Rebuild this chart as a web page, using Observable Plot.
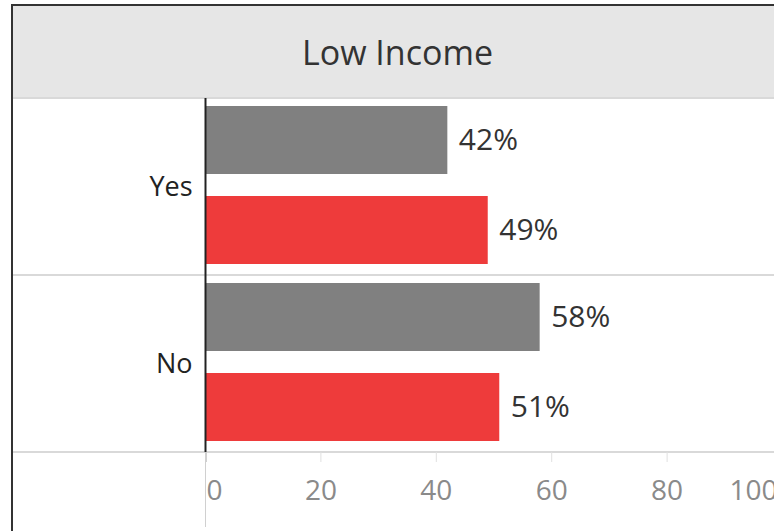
<!DOCTYPE html>
<html>
<head>
<meta charset="utf-8">
<script src="https://cdn.jsdelivr.net/npm/d3@7"></script>
<script src="https://cdn.jsdelivr.net/npm/@observablehq/plot@0.6"></script>
<style>
  html, body { margin: 0; padding: 0; background: #fff; }
  body { width: 774px; height: 531px; overflow: hidden; position: relative; font-family: "Open Sans", sans-serif; }
  #topborder { position: absolute; left: 11px; top: 4px; width: 800px; height: 2px; background: #333; }
  #leftborder { position: absolute; left: 11px; top: 4px; width: 2px; height: 540px; background: #333; }
  #header { position: absolute; left: 13px; top: 6px; width: 769px; height: 91px; background: #e6e6e6;
            display: flex; align-items: center; justify-content: center; color: #333; font-size: 34px; }
  #chart { position: absolute; left: 0; top: 97px; width: 790px; height: 434px; }
  #chart svg { max-width: none !important; }
</style>
</head>
<body>
<div id="header">Low Income</div>
<div id="chart"></div>
<div id="topborder"></div>
<div id="leftborder"></div>
<script>
const categories = ["Yes", "No"];
const series = ["Series A", "Series B"];
const seriesAValues = [42, 58];
const seriesBValues = [49, 51];
const xTicks = [0, 20, 40, 60, 80, 100];
const seriesColors = ["#808080", "#ee3b3b"];

const data = [];
categories.forEach((c, i) => {
  data.push({category: c, series: series[0], value: seriesAValues[i]});
  data.push({category: c, series: series[1], value: seriesBValues[i]});
});

const chart = Plot.plot({
  width: 790,
  height: 434,
  marginLeft: 205,
  marginRight: 8,
  marginTop: 1,
  marginBottom: 79,
  style: {fontFamily: "Open Sans", background: "transparent", maxWidth: "none"},
  x: {domain: [0, 100], axis: null},
  fy: {domain: categories, padding: 0, axis: null},
  y: {domain: series, paddingInner: 0.25, paddingOuter: 0.1, align: 0.4, axis: null},
  color: {domain: series, range: seriesColors},
  marks: [
    Plot.barX(data, {x: "value", y: "series", fy: "category", fill: "series"}),
    Plot.text(data, {x: "value", y: "series", fy: "category", text: d => d.value + "%",
      dx: 11, textAnchor: "start", fontSize: 30, fill: "#333"}),
    Plot.ruleX([0], {stroke: "#222", strokeWidth: 2}),
    Plot.axisFy({anchor: "left", tickSize: 0, tickPadding: 13, fontSize: 27, label: null, fill: "#222"}),
    Plot.axisX({ticks: [xTicks[0]], tickSize: 75, tickFormat: () => "", stroke: "#d0d0d0", label: null}),
    Plot.axisX({ticks: [xTicks[0]], tickSize: 10, tickPadding: 18, textAnchor: "start", dx: 1,
      fontSize: 28, fill: "#8a8a8a", stroke: "#d0d0d0", label: null}),
    Plot.axisX({ticks: xTicks.slice(1, -1), tickSize: 10, tickPadding: 18,
      fontSize: 28, fill: "#8a8a8a", stroke: "#e0e0e0", label: null}),
    Plot.axisX({ticks: [xTicks[xTicks.length - 1]], tickSize: 10, tickPadding: 18, textAnchor: "end", dx: -5,
      fontSize: 28, fill: "#8a8a8a", stroke: "#e0e0e0", label: null})
  ]
});

// Row separator lines spanning the label column and plot, at facet boundaries
const fy = chart.scale("fy");
const svg = d3.select(chart.tagName === "svg" ? chart : chart.querySelector("svg"));
const bounds = categories.map(c => fy.apply(c));
bounds.push(fy.apply(categories[categories.length - 1]) + fy.bandwidth);
svg.insert("g", ":first-child")
  .selectAll("line")
  .data(bounds)
  .join("line")
  .attr("x1", 12).attr("x2", 790)
  .attr("y1", d => d).attr("y2", d => d)
  .attr("stroke", "#d9d9d9").attr("stroke-width", 2);

document.getElementById("chart").appendChild(chart);
</script>
</body>
</html>
